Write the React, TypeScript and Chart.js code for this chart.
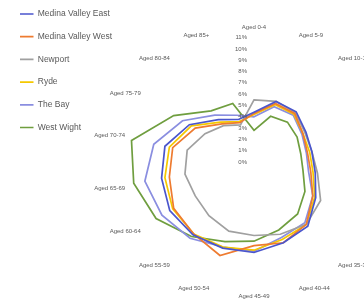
import React, { useEffect, useRef } from "react";
import { Chart, registerables } from "chart.js";

Chart.register(...registerables);

const categories = [
  "Aged 0-4", "Aged 5-9", "Aged 10-14", "Aged 15-19", "Aged 20-24", "Aged 25-29",
  "Aged 30-34", "Aged 35-39", "Aged 40-44", "Aged 45-49", "Aged 50-54", "Aged 55-59",
  "Aged 60-64", "Aged 65-69", "Aged 70-74", "Aged 75-79", "Aged 80-84", "Aged 85+",
];

const medinaValleyEast = [4.4, 5.7, 5.8, 5.3, 5.2, 5.5, 6.3, 7.4, 7.6, 8.0, 8.1, 8.4, 8.6, 8.3, 8.0, 6.6, 4.9, 4.0];
const medinaValleyWest = [4.3, 5.5, 5.6, 5.0, 4.8, 5.1, 6.0, 7.2, 7.6, 7.4, 8.8, 8.3, 8.2, 7.6, 7.3, 6.0, 4.4, 3.7];
const newport = [5.5, 5.7, 5.7, 5.2, 5.2, 5.7, 6.8, 7.2, 6.8, 6.5, 6.5, 6.2, 6.0, 6.2, 6.0, 5.0, 4.2, 3.5];
const ryde = [4.2, 5.4, 5.5, 5.0, 5.0, 5.3, 6.2, 7.2, 7.3, 7.8, 8.0, 8.3, 8.3, 8.0, 7.6, 6.4, 4.6, 3.8];
const theBay = [4.0, 5.2, 5.4, 4.9, 4.7, 4.9, 6.0, 7.0, 7.1, 7.9, 8.0, 8.8, 9.4, 9.8, 9.0, 7.3, 5.4, 4.4];
const westWight = [2.8, 4.3, 4.6, 4.4, 4.2, 4.4, 5.2, 6.0, 6.4, 7.0, 7.5, 8.6, 10.0, 10.8, 11.0, 8.2, 5.9, 5.5];

const seriesNames = ["Medina Valley East", "Medina Valley West", "Newport", "Ryde", "The Bay", "West Wight"];
const seriesColors = ["#4a55cc", "#ee7b30", "#a0a0a0", "#f5c800", "#8a8ee0", "#6f9e3f"];
const seriesValues = [medinaValleyEast, medinaValleyWest, newport, ryde, theBay, westWight];

const tickValues = [0, 1, 2, 3, 4, 5, 6, 7, 8, 9, 10, 11];
const tickLabels = ["0%", "1%", "2%", "3%", "4%", "5%", "6%", "7%", "8%", "9%", "10%", "11%"];

const FONT = "'Liberation Sans', Arial, sans-serif";
const TEXT = "#595959";

export default function App() {
  const ref = useRef<HTMLCanvasElement | null>(null);

  useEffect(() => {
    if (!ref.current) return;

    const placeLegend = {
      id: "placeLegend",
      beforeDraw(chart: any) {
        const lg = chart.legend;
        if (!lg) return;
        lg.top = -4.45;
        lg.bottom = lg.top + 300;
        lg.left = 5.8;
        lg.right = lg.left + Math.max(lg.width, 120);
      },
    };

    const tickText = {
      id: "tickText",
      afterDatasetsDraw(chart: any) {
        const s = chart.scales.r;
        const ctx = chart.ctx;
        ctx.save();
        ctx.font = `6px ${FONT}`;
        ctx.fillStyle = TEXT;
        ctx.textAlign = "right";
        ctx.textBaseline = "middle";
        tickValues.forEach((v, i) => {
          const y = s.yCenter - s.getDistanceFromCenterForValue(v);
          ctx.fillText(tickLabels[i], s.xCenter - 7, y);
        });
        ctx.restore();
      },
    };

    const chart = new Chart(ref.current, {
      type: "radar",
      data: {
        labels: categories,
        datasets: seriesNames.map((name, i) => ({
          label: name,
          data: seriesValues[i],
          borderColor: seriesColors[i],
          backgroundColor: seriesColors[i],
          borderWidth: 1.7,
          pointRadius: 0,
          fill: false,
          tension: 0,
        })),
      },
      options: {
        responsive: true,
        maintainAspectRatio: false,
        animation: false,
        layout: { padding: { top: 24, bottom: 5, left: 0, right: 0 } },
        scales: {
          r: {
            min: 0,
            max: 11,
            ticks: { display: false, stepSize: 1 },
            grid: { display: false },
            angleLines: { display: false },
            pointLabels: {
              font: { size: 6, family: FONT },
              color: TEXT,
              padding: 6.4,
            },
          },
        },
        plugins: {
          legend: {
            position: "chartArea" as any,
            align: "start",
            labels: {
              usePointStyle: true,
              pointStyle: "line",
              pointStyleWidth: 13.5,
              padding: 14.2,
              color: TEXT,
              font: { size: 8.5, family: FONT },
            },
          },
          tooltip: { enabled: false },
        },
      },
      plugins: [placeLegend, tickText],
    });

    return () => chart.destroy();
  }, []);

  return (
    <div style={{ position: "fixed", left: 0, top: 0, width: 364, height: 305, overflow: "hidden", background: "#fff" }}>
      <div style={{ position: "relative", width: 508, height: 305 }}>
        <canvas ref={ref} />
      </div>
    </div>
  );
}
